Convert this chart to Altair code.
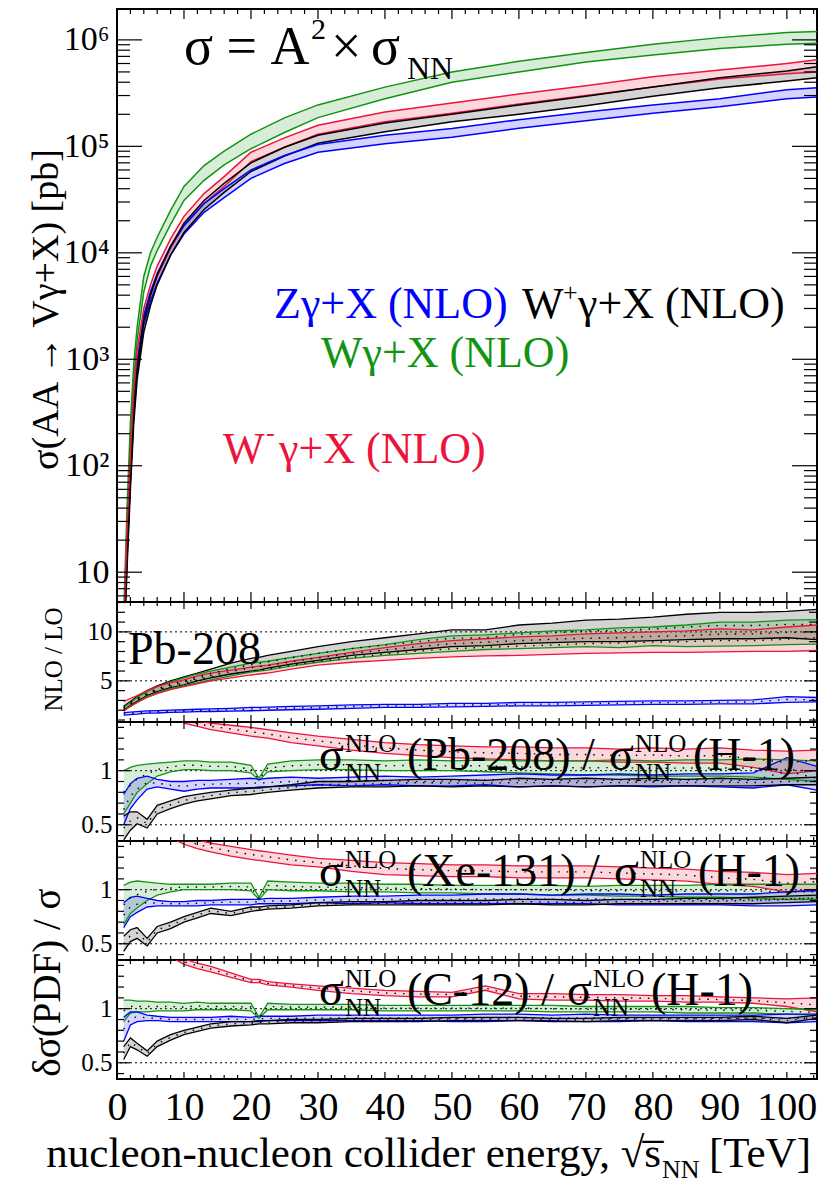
import altair as alt
import pandas as pd

FONT = "Liberation Serif, Times New Roman, serif"

PROCS = ["Zγ+X (NLO)", "W⁺γ+X (NLO)", "Wγ+X (NLO)", "W⁻γ+X (NLO)"]
COLORS = ["#0000ff", "#000000", "#119411", "#eb143c"]

# ---------------- top panel: sigma(AA -> V gamma + X) [pb] ----------------
TOP_X = [1, 1.5, 2, 2.5, 3, 4, 5, 6, 8, 10, 13, 16, 20, 25, 30, 40, 50, 60, 70, 80, 90, 100, 104.5]
TOP_Z_LO = [2.0, 14, 75, 300, 720, 2.1e3, 3.5e3, 5.2e3, 9.5e3, 1.5e4, 2.4e4, 3.3e4, 5.0e4, 6.9e4, 8.8e4, 1.06e5, 1.22e5, 1.48e5, 1.74e5, 2.05e5, 2.35e5, 2.8e5, 2.9e5]
TOP_Z_HI = [2.5, 18, 95, 380, 900, 2.6e3, 4.3e3, 6.4e3, 1.15e4, 1.8e4, 2.9e4, 4.0e4, 6.0e4, 8.2e4, 1.04e5, 1.27e5, 1.47e5, 1.78e5, 2.1e5, 2.45e5, 2.8e5, 3.4e5, 3.55e5]
TOP_WP_LO = [1.6, 11, 60, 250, 640, 1.8e3, 3.2e3, 5.0e3, 9.5e3, 1.55e4, 2.55e4, 3.7e4, 5.8e4, 8.1e4, 1.07e5, 1.37e5, 1.7e5, 2.0e5, 2.4e5, 2.95e5, 3.55e5, 4.1e5, 4.4e5]
TOP_WP_HI = [2.0, 14, 75, 320, 800, 2.3e3, 4.0e3, 6.2e3, 1.15e4, 1.9e4, 3.1e4, 4.5e4, 7.0e4, 9.8e4, 1.27e5, 1.66e5, 2.0e5, 2.45e5, 2.95e5, 3.6e5, 4.4e5, 5.1e5, 5.6e5]
TOP_W_LO = [3.0, 28, 180, 650, 1.5e3, 4.3e3, 7.5e3, 1.05e4, 1.85e4, 3.1e4, 4.8e4, 6.7e4, 9.5e4, 1.35e5, 1.86e5, 2.8e5, 4.0e5, 5.0e5, 6.2e5, 7.2e5, 8.3e5, 9.1e5, 9.3e5]
TOP_W_HI = [4.0, 40, 250, 900, 2.0e3, 6.0e3, 1.0e4, 1.4e4, 2.5e4, 4.2e4, 6.6e4, 9.0e4, 1.3e5, 1.85e5, 2.45e5, 3.6e5, 5.0e5, 6.3e5, 7.6e5, 9.1e5, 1.05e6, 1.17e6, 1.2e6]
TOP_WM_LO = [2.3, 20, 100, 400, 950, 2.4e3, 4.0e3, 6.0e3, 1.1e4, 1.8e4, 2.9e4, 4.2e4, 7.2e4, 9.8e4, 1.3e5, 1.7e5, 2.05e5, 2.5e5, 3.0e5, 3.6e5, 4.3e5, 4.8e5, 5.0e5]
TOP_WM_HI = [3.0, 25, 130, 500, 1.2e3, 3.0e3, 5.0e3, 7.5e3, 1.35e4, 2.2e4, 3.6e4, 5.2e4, 8.8e4, 1.2e5, 1.58e5, 2.1e5, 2.55e5, 3.1e5, 3.7e5, 4.5e5, 5.2e5, 6.0e5, 6.5e5]

# ---------------- ratio panels ----------------
R_X = [1, 2, 3, 4.5, 6, 8, 10, 12, 14, 17, 20, 21.2, 22.5, 26, 30, 35, 40, 45, 50, 55, 60, 65, 70, 75, 80, 85, 90, 95, 100, 104.5]

# NLO / LO (Pb-208)
NL_Z_LO = [1.5, 1.55, 1.6, 1.7, 1.72, 1.78, 1.8, 1.85, 1.87, 1.9, 1.95, 1.97, 2.0, 2.05, 2.1, 2.2, 2.3, 2.3, 2.35, 2.4, 2.45, 2.45, 2.5, 2.55, 2.6, 2.6, 2.65, 2.65, 2.8, 2.85]
NL_Z_HI = [1.75, 1.8, 1.85, 1.93, 1.97, 2.02, 2.05, 2.1, 2.13, 2.2, 2.3, 2.3, 2.32, 2.4, 2.45, 2.55, 2.6, 2.6, 2.7, 2.7, 2.8, 2.8, 2.85, 2.9, 2.95, 2.95, 3.0, 3.05, 3.4, 3.3]
NL_WP_LO = [2.0, 2.5, 2.9, 3.5, 3.9, 4.3, 4.6, 5.0, 5.3, 5.7, 6.0, 6.1, 6.3, 6.7, 7.1, 7.6, 7.9, 8.2, 8.5, 8.6, 8.8, 8.9, 9.0, 9.0, 9.1, 9.2, 9.3, 9.3, 9.4, 9.2]
NL_WP_HI = [2.4, 2.9, 3.4, 4.0, 4.5, 5.0, 5.4, 5.8, 6.2, 6.8, 7.3, 7.4, 7.6, 8.0, 8.5, 9.0, 9.4, 9.8, 10.2, 10.2, 10.7, 10.9, 11.2, 11.3, 11.5, 11.8, 12.0, 12.0, 12.1, 12.3]
NL_W_LO = [2.0, 2.4, 2.8, 3.4, 3.8, 4.2, 4.5, 4.8, 5.1, 5.5, 5.9, 6.0, 6.1, 6.5, 6.9, 7.3, 7.6, 7.8, 8.0, 8.2, 8.3, 8.4, 8.5, 8.4, 8.6, 8.5, 8.55, 8.6, 8.7, 8.75]
NL_W_HI = [2.3, 2.8, 3.3, 3.9, 4.4, 4.9, 5.3, 5.7, 6.0, 6.4, 6.8, 6.9, 7.0, 7.4, 7.8, 8.3, 8.7, 9.2, 9.6, 9.7, 9.9, 10.1, 10.2, 10.4, 10.5, 10.7, 11.0, 11.0, 11.2, 11.25]
NL_WM_LO = [1.9, 2.4, 2.8, 3.3, 3.7, 4.1, 4.4, 4.7, 5.0, 5.3, 5.6, 5.7, 5.8, 6.2, 6.6, 6.9, 7.1, 7.3, 7.45, 7.55, 7.6, 7.7, 7.8, 7.85, 7.9, 7.9, 7.95, 8.0, 8.0, 8.1]
NL_WM_HI = [2.9, 3.2, 3.5, 4.0, 4.4, 4.8, 5.1, 5.5, 5.8, 6.1, 6.4, 6.5, 6.6, 7.0, 7.4, 7.9, 8.4, 8.8, 9.1, 9.3, 9.5, 9.6, 9.8, 9.9, 10.0, 10.1, 10.3, 10.2, 10.5, 10.7]

# sigma_NN(Pb-208) / sigma_NN(H-1)
PB_Z_LO = [0.5, 0.65, 0.73, 0.83, 0.85, 0.83, 0.81, 0.83, 0.84, 0.84, 0.84, 0.85, 0.85, 0.86, 0.87, 0.86, 0.87, 0.86, 0.86, 0.87, 0.85, 0.86, 0.85, 0.86, 0.85, 0.86, 0.85, 0.84, 0.87, 0.82]
PB_Z_HI = [0.78, 0.88, 0.93, 0.95, 0.92, 0.90, 0.90, 0.91, 0.91, 0.92, 0.93, 0.92, 0.93, 0.94, 0.93, 0.94, 0.95, 0.94, 0.95, 0.96, 0.97, 0.96, 0.96, 0.97, 0.96, 0.97, 0.97, 0.98, 1.12, 1.04]
PB_WP_LO = [0.36, 0.45, 0.51, 0.47, 0.6, 0.65, 0.69, 0.72, 0.74, 0.77, 0.78, 0.79, 0.8, 0.82, 0.84, 0.85, 0.85, 0.86, 0.85, 0.86, 0.85, 0.86, 0.85, 0.86, 0.86, 0.86, 0.86, 0.86, 0.87, 0.87]
PB_WP_HI = [0.58, 0.62, 0.62, 0.55, 0.68, 0.72, 0.76, 0.78, 0.8, 0.82, 0.84, 0.84, 0.85, 0.87, 0.9, 0.9, 0.91, 0.92, 0.92, 0.91, 0.93, 0.92, 0.93, 0.92, 0.93, 0.92, 0.93, 0.92, 0.93, 0.94]
PB_W_LO = [0.6, 0.7, 0.8, 0.88, 0.95, 0.99, 1.01, 1.01, 1.0, 1.0, 0.98, 0.91, 0.99, 1.0, 1.01, 1.01, 1.0, 1.0, 1.0, 0.99, 0.98, 0.97, 0.96, 0.96, 0.95, 0.95, 0.95, 0.94, 0.92, 0.9]
PB_W_HI = [1.0, 1.03, 1.05, 1.06, 1.07, 1.08, 1.09, 1.09, 1.08, 1.08, 1.05, 0.93, 1.06, 1.09, 1.10, 1.10, 1.09, 1.10, 1.09, 1.10, 1.09, 1.09, 1.09, 1.10, 1.09, 1.10, 1.10, 1.11, 1.10, 1.09]
PB_WM_LO = [1.8, 1.75, 1.7, 1.65, 1.6, 1.52, 1.44, 1.41, 1.38, 1.35, 1.32, 1.31, 1.30, 1.26, 1.23, 1.19, 1.16, 1.14, 1.12, 1.11, 1.10, 1.09, 1.09, 1.08, 1.08, 1.07, 1.07, 1.03, 0.97, 1.0]
PB_WM_HI = [1.9, 1.85, 1.8, 1.75, 1.7, 1.62, 1.52, 1.46, 1.44, 1.42, 1.40, 1.39, 1.38, 1.35, 1.32, 1.29, 1.26, 1.24, 1.23, 1.22, 1.22, 1.21, 1.21, 1.20, 1.21, 1.20, 1.21, 1.19, 1.18, 1.19]

# sigma_NN(Xe-131) / sigma_NN(H-1)
XE_Z_LO = [0.65, 0.75, 0.79, 0.84, 0.85, 0.85, 0.85, 0.85, 0.86, 0.86, 0.86, 0.87, 0.87, 0.87, 0.88, 0.87, 0.88, 0.87, 0.87, 0.87, 0.87, 0.87, 0.87, 0.86, 0.86, 0.86, 0.86, 0.85, 0.85, 0.86]
XE_Z_HI = [0.88, 0.93, 0.94, 0.92, 0.9, 0.89, 0.89, 0.9, 0.9, 0.91, 0.91, 0.91, 0.92, 0.92, 0.93, 0.94, 0.94, 0.95, 0.95, 0.96, 0.96, 0.95, 0.96, 0.96, 0.95, 0.96, 0.96, 0.96, 0.98, 0.99]
XE_WP_LO = [0.43, 0.52, 0.55, 0.48, 0.6, 0.64, 0.7, 0.74, 0.78, 0.76, 0.8, 0.81, 0.82, 0.83, 0.85, 0.86, 0.86, 0.86, 0.86, 0.86, 0.87, 0.86, 0.86, 0.87, 0.87, 0.87, 0.87, 0.87, 0.88, 0.89]
XE_WP_HI = [0.57, 0.63, 0.65, 0.55, 0.66, 0.7, 0.75, 0.79, 0.83, 0.80, 0.84, 0.84, 0.85, 0.86, 0.88, 0.89, 0.89, 0.9, 0.9, 0.9, 0.91, 0.91, 0.9, 0.91, 0.91, 0.92, 0.92, 0.93, 0.94, 0.95]
XE_W_LO = [0.68, 0.78, 0.83, 0.9, 0.95, 0.98, 1.0, 1.0, 1.0, 1.0, 0.99, 0.91, 1.0, 0.99, 0.99, 0.98, 0.98, 0.97, 0.97, 0.96, 0.96, 0.95, 0.95, 0.94, 0.94, 0.93, 0.93, 0.92, 0.91, 0.91]
XE_W_HI = [1.04, 1.07, 1.08, 1.07, 1.06, 1.05, 1.05, 1.05, 1.05, 1.06, 1.06, 0.93, 1.08, 1.07, 1.06, 1.06, 1.05, 1.05, 1.04, 1.04, 1.04, 1.04, 1.03, 1.04, 1.04, 1.04, 1.05, 1.05, 1.05, 1.05]
XE_WM_LO = [1.8, 1.75, 1.7, 1.62, 1.55, 1.48, 1.42, 1.38, 1.35, 1.31, 1.28, 1.27, 1.26, 1.23, 1.21, 1.17, 1.14, 1.13, 1.12, 1.12, 1.11, 1.11, 1.11, 1.1, 1.09, 1.08, 1.05, 1.03, 0.98, 1.0]
XE_WM_HI = [1.9, 1.85, 1.8, 1.72, 1.65, 1.57, 1.50, 1.46, 1.43, 1.40, 1.37, 1.36, 1.35, 1.32, 1.29, 1.27, 1.25, 1.24, 1.23, 1.23, 1.22, 1.22, 1.22, 1.21, 1.2, 1.19, 1.17, 1.16, 1.14, 1.15]

# sigma_NN(C-12) / sigma_NN(H-1)
C_Z_LO = [0.7, 0.85, 0.88, 0.89, 0.89, 0.88, 0.88, 0.88, 0.88, 0.88, 0.88, 0.88, 0.89, 0.89, 0.89, 0.89, 0.89, 0.89, 0.88, 0.88, 0.89, 0.89, 0.88, 0.88, 0.89, 0.88, 0.88, 0.88, 0.87, 0.88]
C_Z_HI = [0.92, 0.97, 0.97, 0.94, 0.93, 0.92, 0.92, 0.92, 0.92, 0.93, 0.92, 0.93, 0.93, 0.93, 0.94, 0.94, 0.94, 0.94, 0.94, 0.95, 0.95, 0.94, 0.95, 0.94, 0.94, 0.94, 0.94, 0.94, 0.95, 0.95]
C_WP_LO = [0.53, 0.65, 0.62, 0.56, 0.65, 0.71, 0.76, 0.79, 0.82, 0.84, 0.85, 0.86, 0.86, 0.87, 0.87, 0.88, 0.88, 0.88, 0.89, 0.89, 0.89, 0.88, 0.88, 0.89, 0.89, 0.89, 0.89, 0.9, 0.87, 0.91]
C_WP_HI = [0.65, 0.73, 0.68, 0.61, 0.7, 0.76, 0.8, 0.83, 0.86, 0.88, 0.88, 0.89, 0.89, 0.9, 0.9, 0.91, 0.91, 0.91, 0.92, 0.92, 0.92, 0.91, 0.91, 0.92, 0.92, 0.92, 0.92, 0.93, 0.91, 0.94]
C_W_LO = [0.88, 0.96, 0.97, 0.97, 0.98, 0.98, 0.98, 0.99, 0.99, 0.99, 0.98, 0.91, 0.99, 0.99, 0.99, 0.99, 0.98, 0.98, 0.98, 0.98, 0.98, 0.97, 0.97, 0.97, 0.97, 0.96, 0.96, 0.96, 0.95, 0.94]
C_W_HI = [1.08, 1.08, 1.07, 1.07, 1.06, 1.06, 1.05, 1.06, 1.05, 1.05, 1.05, 0.92, 1.05, 1.04, 1.04, 1.04, 1.03, 1.03, 1.03, 1.03, 1.03, 1.03, 1.02, 1.02, 1.02, 1.02, 1.01, 1.01, 1.0, 0.99]
C_WM_LO = [1.9, 1.8, 1.72, 1.63, 1.55, 1.48, 1.41, 1.37, 1.34, 1.29, 1.24, 1.24, 1.22, 1.2, 1.17, 1.14, 1.12, 1.11, 1.11, 1.17, 1.09, 1.08, 1.08, 1.07, 1.07, 1.06, 1.06, 1.05, 1.02, 0.97]
C_WM_HI = [2.0, 1.9, 1.8, 1.7, 1.62, 1.54, 1.46, 1.42, 1.39, 1.33, 1.27, 1.27, 1.25, 1.23, 1.21, 1.19, 1.17, 1.16, 1.15, 1.21, 1.14, 1.14, 1.13, 1.13, 1.12, 1.12, 1.11, 1.10, 1.09, 1.1]

# tick values
X_MAJOR = [0, 10, 20, 30, 40, 50, 60, 70, 80, 90, 100]
X_MINOR = [v for v in range(0, 105, 2) if v % 10 != 0]
TOP_Y_MAJOR = [10, 100, 1e3, 1e4, 1e5, 1e6]
TOP_Y_MINOR = [m * 10 ** k for k in range(0, 7) for m in range(2, 10) if 5.25 <= m * 10 ** k <= 1.95e6]
NL_Y_MAJOR = [5, 10]
NL_Y_MINOR = [1, 2, 3, 4, 6, 7, 8, 9, 11, 12, 13]
R_Y_MAJOR = [0.5, 1.0]
R_Y_MINOR = [0.4, 0.6, 0.7, 0.8, 0.9, 1.1, 1.2, 1.3, 1.4]

# ---------------- helpers ----------------
W = 700
XS = alt.Scale(domain=[0, 104.5], nice=False, zero=False)
CS = alt.Scale(domain=PROCS, range=COLORS)


def bands(xs, series):
    rows = []
    for p, (lo, hi) in zip(PROCS, series):
        for x, l, h in zip(xs, lo, hi):
            rows.append({"x": x, "lo": l, "hi": h, "proc": p})
    return pd.DataFrame(rows)


def band_layers(df, ys, ya, xa, dotted, lw):
    base = alt.Chart(df)
    X = alt.X("x:Q", scale=XS, axis=xa)
    col = alt.Color("proc:N", scale=CS, legend=None)
    layers = [
        base.mark_area(opacity=0.17, clip=True).encode(
            x=X, y=alt.Y("lo:Q", scale=ys, axis=ya), y2="hi:Q", color=col),
        base.mark_line(strokeWidth=lw, clip=True).encode(
            x=X, y=alt.Y("lo:Q", scale=ys, axis=ya), color=col),
        base.mark_line(strokeWidth=lw, clip=True).encode(
            x=X, y=alt.Y("hi:Q", scale=ys, axis=ya), color=col),
    ]
    if dotted:
        layers.append(
            base.transform_calculate(mid="(datum.lo + datum.hi) / 2")
            .mark_line(color="black", strokeDash=[1.5, 7], strokeWidth=1.4, clip=True)
            .encode(x=X, y=alt.Y("mid:Q", scale=ys, axis=ya), detail="proc:N"))
    return layers


def tick_layers(ymaj, ymin, ys, ya, xa, h, xl, yl):
    layers = []
    for vals, L in ((X_MAJOR, xl[0]), (X_MINOR, xl[1])):
        d = pd.DataFrame({"v": vals})
        X = alt.X("v:Q", scale=XS, axis=xa)
        layers.append(alt.Chart(d).mark_rule(color="black", strokeWidth=1.2).encode(
            x=X, y=alt.value(0), y2=alt.value(L)))
        layers.append(alt.Chart(d).mark_rule(color="black", strokeWidth=1.2).encode(
            x=X, y=alt.value(h), y2=alt.value(h - L)))
    for vals, L in ((ymaj, yl[0]), (ymin, yl[1])):
        d = pd.DataFrame({"v": vals})
        Y = alt.Y("v:Q", scale=ys, axis=ya)
        layers.append(alt.Chart(d).mark_rule(color="black", strokeWidth=1.2).encode(
            y=Y, x=alt.value(0), x2=alt.value(L)))
        layers.append(alt.Chart(d).mark_rule(color="black", strokeWidth=1.2).encode(
            y=Y, x=alt.value(W), x2=alt.value(W - L)))
    return layers


def ref_layer(vals, ys, ya):
    return alt.Chart(pd.DataFrame({"v": vals})).mark_rule(
        color="black", strokeDash=[2, 3], strokeWidth=1).encode(
        y=alt.Y("v:Q", scale=ys, axis=ya))


def txt(s, x, y, size, color="black", align="left"):
    return alt.Chart(pd.DataFrame({"t": [s]})).mark_text(
        align=align, baseline="alphabetic", font=FONT, fontSize=size, color=color
    ).encode(x=alt.value(x), y=alt.value(y), text="t:N")


def ratio_title(nucleus, s2x, base):
    sup, sub = base - 18, base + 11
    return [
        txt("σ", 202, base, 46),
        txt("NLO", 228, sup, 25),
        txt("NN", 228, sub, 25),
        txt("(" + nucleus + ") /", 290, base, 46),
        txt("σ", s2x, base, 46),
        txt("NLO", s2x + 26, sup, 25),
        txt("NN", s2x + 26, sub, 25),
        txt("(H-1)", s2x + 84, base, 46),
    ]


def axis_common(**kw):
    return alt.Axis(ticks=False, tickSize=0, domain=False, grid=False,
                    labelFont=FONT, labelColor="black", titleFont=FONT,
                    titleColor="black", titleFontWeight="normal",
                    titleAngle=270, titleAlign="center", titleBaseline="middle",
                    **kw)


# ---------------- top panel ----------------
H_TOP = 593
YS_TOP = alt.Scale(type="log", domain=[5.25, 1.95e6], nice=False)
YA_TOP = axis_common(
    values=TOP_Y_MAJOR,
    labelExpr="datum.value >= 1e6 ? '10⁶' : datum.value >= 1e5 ? '10⁵' : datum.value >= 1e4 ? '10⁴' : datum.value >= 1e3 ? '10³' : datum.value >= 100 ? '10²' : '10'",
    labelFontSize=34, labelPadding=8,
    title="σ(AA → Vγ+X) [pb]", titleFontSize=38, titleX=-71, titleY=300)

top_df = bands(TOP_X, [(TOP_Z_LO, TOP_Z_HI), (TOP_WP_LO, TOP_WP_HI),
                       (TOP_W_LO, TOP_W_HI), (TOP_WM_LO, TOP_WM_HI)])
top = alt.layer(
    *band_layers(top_df, YS_TOP, YA_TOP, None, False, 1.5),
    *tick_layers(TOP_Y_MAJOR, TOP_Y_MINOR, YS_TOP, YA_TOP, None, H_TOP, (10, 5), (25, 13)),
    txt("σ = A", 67, 55, 54),
    txt("2", 194, 30, 30),
    txt("×", 214, 55, 54),
    txt("σ", 254, 55, 54),
    txt("NN", 290, 70, 32),
    txt("Zγ+X (NLO)", 157, 309, 44, COLORS[0]),
    txt("W", 405, 309, 44, COLORS[1]),
    txt("+", 446, 292, 26, COLORS[1]),
    txt("γ+X (NLO)", 461, 309, 44, COLORS[1]),
    txt("Wγ+X (NLO)", 204, 358, 44, COLORS[2]),
    txt("W", 106, 454, 44, COLORS[3]),
    txt("-", 149, 432, 26, COLORS[3]),
    txt("γ+X (NLO)", 162, 454, 44, COLORS[3]),
).properties(width=W, height=H_TOP)

# ---------------- NLO / LO panel ----------------
H_NL = 120
YS_NL = alt.Scale(domain=[0.8, 13.05], nice=False, zero=False)
YA_NL = axis_common(values=NL_Y_MAJOR, labelFontSize=25, labelPadding=5,
                    title="NLO / LO", titleFontSize=25, titleX=-64, titleY=57)
nl_df = bands(R_X, [(NL_Z_LO, NL_Z_HI), (NL_WP_LO, NL_WP_HI),
                    (NL_W_LO, NL_W_HI), (NL_WM_LO, NL_WM_HI)])
nlo = alt.layer(
    ref_layer([5, 10], YS_NL, YA_NL),
    *band_layers(nl_df, YS_NL, YA_NL, None, True, 1.3),
    *tick_layers(NL_Y_MAJOR, NL_Y_MINOR, YS_NL, YA_NL, None, H_NL, (7, 4), (13, 8)),
    txt("Pb-208", 11, 62, 46),
).properties(width=W, height=H_NL)

# ---------------- ratio panels ----------------
H_R = 119
YS_R = alt.Scale(domain=[0.35, 1.45], nice=False, zero=False)


def ratio_axis(**kw):
    return axis_common(values=R_Y_MAJOR,
                       labelExpr="datum.value == 1 ? '1' : '0.5'",
                       labelFontSize=25, labelPadding=5, **kw)


YA_PB = ratio_axis(title=None)
YA_XE = ratio_axis(title="δσ(PDF) / σ", titleFontSize=39, titleX=-70, titleY=141)
YA_C = ratio_axis(title=None)
XA_BOTTOM = alt.Axis(values=X_MAJOR, labelFontSize=40, labelFont=FONT,
                     labelColor="black", labelPadding=8, ticks=False, tickSize=0,
                     domain=False, grid=False, title=None, labelFlush=False,
                     labelOverlap=False)

pb_df = bands(R_X, [(PB_Z_LO, PB_Z_HI), (PB_WP_LO, PB_WP_HI),
                    (PB_W_LO, PB_W_HI), (PB_WM_LO, PB_WM_HI)])
xe_df = bands(R_X, [(XE_Z_LO, XE_Z_HI), (XE_WP_LO, XE_WP_HI),
                    (XE_W_LO, XE_W_HI), (XE_WM_LO, XE_WM_HI)])
c_df = bands(R_X, [(C_Z_LO, C_Z_HI), (C_WP_LO, C_WP_HI),
                   (C_W_LO, C_W_HI), (C_WM_LO, C_WM_HI)])

pb = alt.layer(
    ref_layer([0.5, 1.0], YS_R, YA_PB),
    *band_layers(pb_df, YS_R, YA_PB, None, True, 1.3),
    *tick_layers(R_Y_MAJOR, R_Y_MINOR, YS_R, YA_PB, None, H_R, (7, 4), (13, 7)),
    *ratio_title("Pb-208", 492, 48),
).properties(width=W, height=H_R)

xe = alt.layer(
    ref_layer([0.5, 1.0], YS_R, YA_XE),
    *band_layers(xe_df, YS_R, YA_XE, None, True, 1.3),
    *tick_layers(R_Y_MAJOR, R_Y_MINOR, YS_R, YA_XE, None, H_R, (7, 4), (13, 7)),
    *ratio_title("Xe-131", 497, 45),
).properties(width=W, height=H_R)

c12 = alt.layer(
    ref_layer([0.5, 1.0], YS_R, YA_C),
    *band_layers(c_df, YS_R, YA_C, XA_BOTTOM, True, 1.3),
    *tick_layers(R_Y_MAJOR, R_Y_MINOR, YS_R, YA_C, XA_BOTTOM, H_R, (7, 4), (13, 7)),
    *ratio_title("C-12", 450, 45),
    txt("nucleon-nucleon collider energy, √s\u0305", 544, 207, 43, align="right"),
    txt("NN", 545, 218, 26),
    txt("[TeV]", 694, 207, 43, align="right"),
).properties(width=W, height=H_R)

chart = alt.vconcat(top, nlo, pb, xe, c12, spacing=0, bounds="flush").properties(
    padding={"left": 26, "top": 7, "right": 5, "bottom": 5}
).configure(font=FONT).configure_view(stroke="black", strokeWidth=2)

chart.save("out.html", embed_options={"renderer": "svg", "actions": False})
